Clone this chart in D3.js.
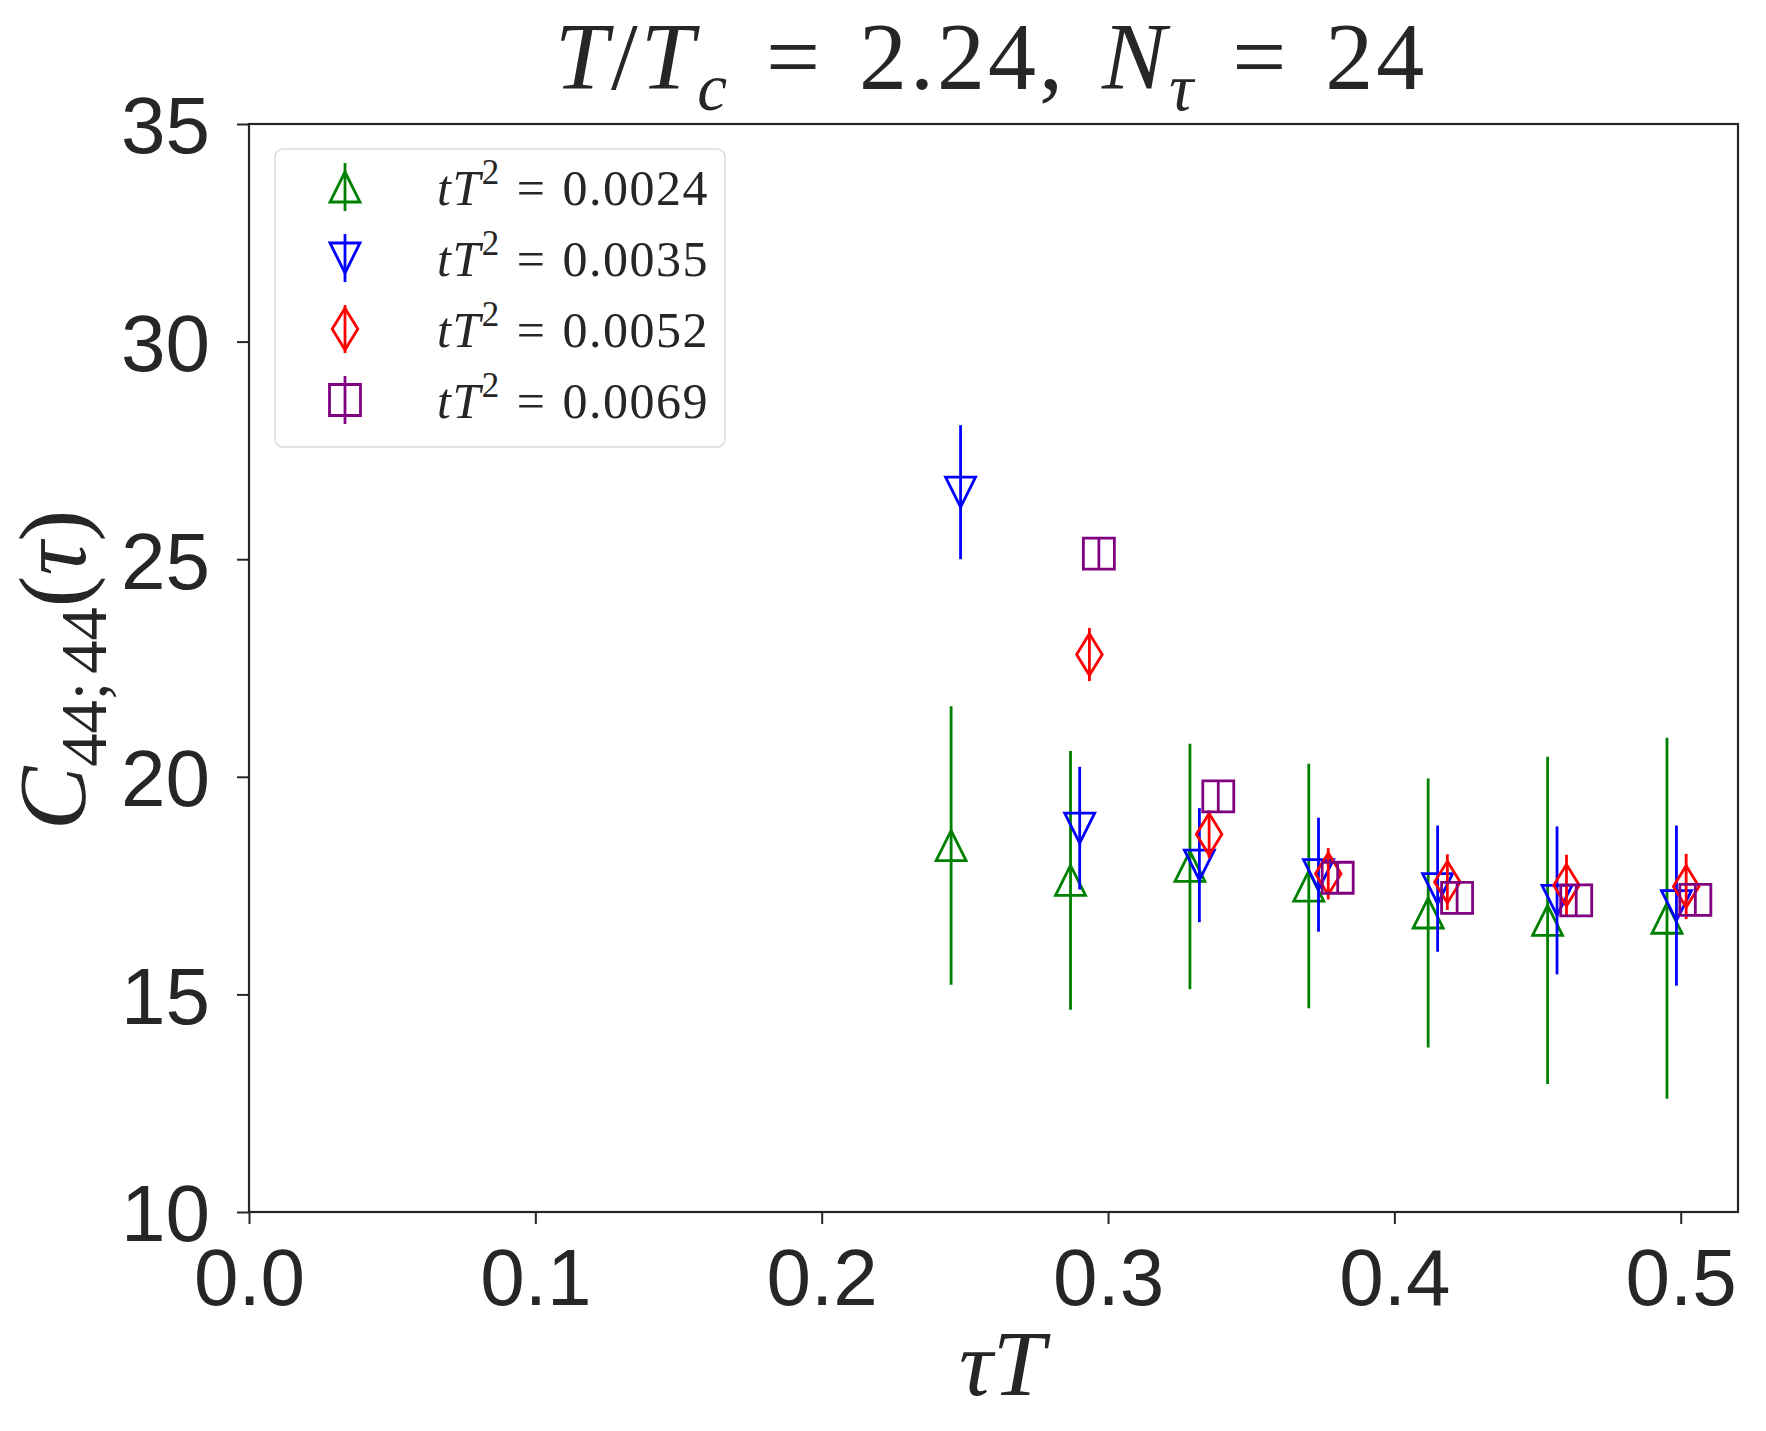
<!DOCTYPE html>
<html>
<head>
<meta charset="utf-8">
<script src="https://cdn.jsdelivr.net/npm/d3@7"></script>
<style>
  body { margin: 0; background: #fff; }
  svg { display: block; }
</style>
</head>
<body>
<div id="chart"></div>
<script>
// values
const xTicks = [0.0, 0.1, 0.2, 0.3, 0.4, 0.5];
const xTickLabels = ['0.0', '0.1', '0.2', '0.3', '0.4', '0.5'];
const yTicks = [10, 15, 20, 25, 30, 35];
const yTickLabels = ['10', '15', '20', '25', '30', '35'];

const flowTimes = ['0.0024', '0.0035', '0.0052', '0.0069'];
const seriesColors = ['green', 'blue', 'red', 'purple'];
const seriesMarkers = ['triangleUp', 'triangleDown', 'thinDiamond', 'square'];

const xGreen = [0.2452, 0.2869, 0.3286, 0.3701, 0.4118, 0.4535, 0.4952];
const yGreen = [18.42, 17.62, 17.94, 17.49, 16.87, 16.70, 16.75];
const eGreen = [3.20, 2.97, 2.82, 2.81, 3.09, 3.76, 4.15];

const xBlue = [0.2485, 0.2901, 0.3319, 0.3735, 0.4151, 0.4568, 0.4985];
const yBlue = [26.54, 18.82, 17.97, 17.75, 17.43, 17.16, 17.04];
const eBlue = [1.54, 1.41, 1.31, 1.31, 1.45, 1.70, 1.84];

const xRed = [0.2935, 0.3353, 0.3769, 0.4185, 0.4601, 0.5019];
const yRed = [22.81, 18.68, 17.77, 17.58, 17.51, 17.48];
const eRed = [0.61, 0.55, 0.59, 0.64, 0.70, 0.75];

const xPurple = [0.2968, 0.3385, 0.3802, 0.4219, 0.4635, 0.5051];
const yPurple = [25.13, 19.55, 17.68, 17.22, 17.16, 17.17];
const ePurple = [0.37, 0.37, 0.37, 0.37, 0.37, 0.37];

const seriesX = [xGreen, xBlue, xRed, xPurple];
const seriesY = [yGreen, yBlue, yRed, yPurple];
const seriesE = [eGreen, eBlue, eRed, ePurple];

const width = 1766;
const height = 1431;
const margin = { top: 124, right: 28, bottom: 219, left: 249 };
const ink = '#262626';
const mathFont = '"Liberation Serif", "DejaVu Serif", serif';
const tickFont = '"Liberation Sans", Arial, sans-serif';

const svg = d3.select('#chart')
  .append('svg')
  .attr('width', width)
  .attr('height', height);

const x = d3.scaleLinear()
  .domain([0, 0.52])
  .range([margin.left, width - margin.right]);

const y = d3.scaleLinear()
  .domain([10, 35])
  .range([height - margin.bottom, margin.top]);

// marker shapes (centred on the data point, like matplotlib)
const markerPath = {
  triangleUp: (s) => `M0,${-s}L${-s},${s}L${s},${s}Z`,
  triangleDown: (s) => `M0,${s}L${-s},${-s}L${s},${-s}Z`,
  thinDiamond: (s) => `M0,${-s * 1.3}L${s * 0.8},0L0,${s * 1.3}L${-s * 0.8},0Z`,
  square: (s) => `M${-s},${-s}L${s},${-s}L${s},${s}L${-s},${s}Z`,
};
const markerSize = { triangleUp: 15, triangleDown: 15, thinDiamond: 16, square: 15.5 };

// write simple math text: parts with italic / sub / sup
function mathText(sel, parts, size) {
  let shift = 0;
  parts.forEach((p) => {
    const ts = sel.append('tspan').text(p.t);
    let target = 0;
    if (p.sub) target = size * 0.22;
    if (p.sup) target = -size * 0.42;
    if (p.sub || p.sup) ts.attr('font-size', size * 0.7);
    if (target !== shift) ts.attr('dy', target - shift);
    shift = target;
    if (p.it) ts.attr('font-style', 'italic');
    if (p.dx) ts.attr('dx', p.dx);
  });
}

// axes
const xAxis = d3.axisBottom(x)
  .tickValues(xTicks)
  .tickFormat((d, i) => xTickLabels[i])
  .tickSize(12)
  .tickPadding(24);

const yAxis = d3.axisLeft(y)
  .tickValues(yTicks)
  .tickFormat((d, i) => yTickLabels[i])
  .tickSize(12)
  .tickPadding(27);

const gx = svg.append('g')
  .attr('transform', `translate(0, ${height - margin.bottom})`)
  .call(xAxis);

const gy = svg.append('g')
  .attr('transform', `translate(${margin.left}, 0)`)
  .call(yAxis);

[gx, gy].forEach((g) => {
  g.select('.domain').remove();
  g.selectAll('.tick line').attr('stroke', ink).attr('stroke-width', 2);
  g.selectAll('.tick text')
    .attr('fill', ink)
    .style('font-family', tickFont)
    .style('font-size', '80px');
});
gy.selectAll('.tick text').attr('dy', '0.36em');

// data: error bars then markers, series by series
seriesX.forEach((xs, k) => {
  const color = seriesColors[k];
  const shape = seriesMarkers[k];
  const pts = xs.map((d, i) => ({ x: d, y: seriesY[k][i], e: seriesE[k][i] }));
  const g = svg.append('g');

  g.selectAll('line')
    .data(pts)
    .enter()
    .append('line')
    .attr('x1', (d) => x(d.x))
    .attr('x2', (d) => x(d.x))
    .attr('y1', (d) => y(d.y - d.e))
    .attr('y2', (d) => y(d.y + d.e))
    .attr('stroke', color)
    .attr('stroke-width', 2.8);

  g.selectAll('path')
    .data(pts)
    .enter()
    .append('path')
    .attr('transform', (d) => `translate(${x(d.x)}, ${y(d.y)})`)
    .attr('d', markerPath[shape](markerSize[shape]))
    .attr('fill', 'none')
    .attr('stroke', color)
    .attr('stroke-width', 2.8);
});

// frame
svg.append('rect')
  .attr('x', margin.left)
  .attr('y', margin.top)
  .attr('width', width - margin.left - margin.right)
  .attr('height', height - margin.top - margin.bottom)
  .attr('fill', 'none')
  .attr('stroke', ink)
  .attr('stroke-width', 2.2);

// legend
const legend = svg.append('g');
legend.append('rect')
  .attr('x', 275)
  .attr('y', 149)
  .attr('width', 450)
  .attr('height', 298)
  .attr('rx', 8)
  .attr('fill', 'white')
  .attr('stroke', '#dcdcdc')
  .attr('stroke-width', 1.5);

flowTimes.forEach((ft, k) => {
  const cy = 187 + k * 71;
  const color = seriesColors[k];
  const shape = seriesMarkers[k];
  legend.append('line')
    .attr('x1', 345).attr('x2', 345)
    .attr('y1', cy - 24).attr('y2', cy + 24)
    .attr('stroke', color)
    .attr('stroke-width', 2.8);
  legend.append('path')
    .attr('transform', `translate(345, ${cy})`)
    .attr('d', markerPath[shape](markerSize[shape]))
    .attr('fill', 'none')
    .attr('stroke', color)
    .attr('stroke-width', 2.8);
  const t = legend.append('text')
    .attr('x', 437)
    .attr('y', cy + 18)
    .attr('fill', ink)
    .style('font-family', mathFont)
    .style('font-size', '50px')
    .style('letter-spacing', '1.5px');
  mathText(t, [
    { t: 't', it: true },
    { t: 'T', it: true },
    { t: '2', sup: true },
    { t: '=', dx: 16 },
    { t: ft, dx: 16 },
  ], 50);
});

// title
const title = svg.append('text')
  .attr('x', 991)
  .attr('y', 89)
  .attr('text-anchor', 'middle')
  .attr('fill', ink)
  .style('font-family', mathFont)
  .style('font-size', '96px')
  .style('letter-spacing', '3px');
mathText(title, [
  { t: 'T', it: true },
  { t: '/' },
  { t: 'T', it: true },
  { t: 'c', it: true, sub: true },
  { t: '=', dx: 36 },
  { t: '2.24,', dx: 36 },
  { t: 'N', it: true, dx: 36 },
  { t: 'τ', it: true, sub: true },
  { t: '=', dx: 36 },
  { t: '24', dx: 36 },
], 96);

// x label
const xLabel = svg.append('text')
  .attr('x', 1002)
  .attr('y', 1395)
  .attr('text-anchor', 'middle')
  .attr('fill', ink)
  .style('font-family', mathFont)
  .style('font-size', '94px');
mathText(xLabel, [{ t: 'τ', it: true }, { t: 'T', it: true }], 94);

// y label
const yLabel = svg.append('text')
  .attr('transform', 'translate(85, 670) rotate(-90)')
  .attr('text-anchor', 'middle')
  .attr('fill', ink)
  .style('font-family', mathFont)
  .style('font-size', '95px');
mathText(yLabel, [
  { t: 'C', it: true },
  { t: '44;', sub: true },
  { t: '44', sub: true, dx: 8 },
  { t: '(' },
  { t: 'τ', it: true },
  { t: ')' },
], 95);
</script>
</body>
</html>
